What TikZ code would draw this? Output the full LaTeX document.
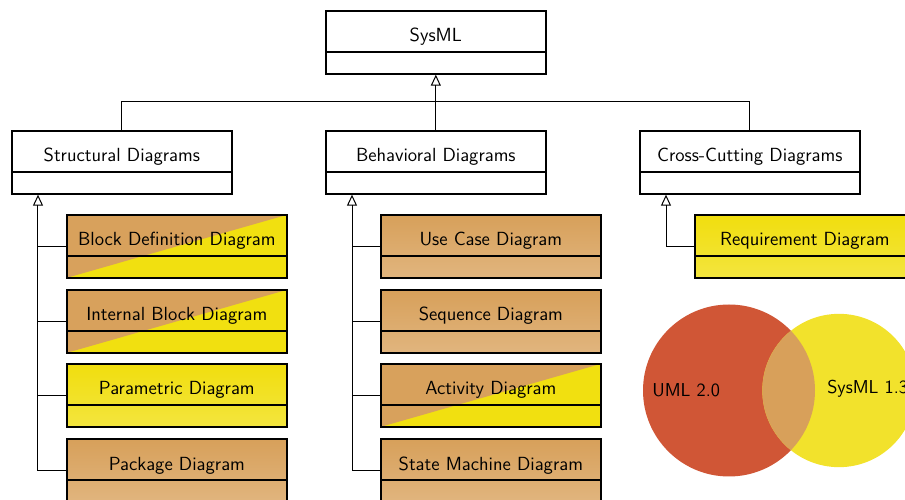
\documentclass[tikz,border=0pt]{standalone}
\usetikzlibrary{arrows.meta}
\definecolor{tanA}{HTML}{D7A05A}
\definecolor{tanB}{HTML}{E1B57E}
\definecolor{yelA}{HTML}{F1DE0E}
\definecolor{yelB}{HTML}{F3E53E}
\definecolor{tanF}{HTML}{D8A15C}
\definecolor{yelF}{HTML}{F1E010}
\definecolor{umlred}{HTML}{D05636}
\definecolor{sysyel}{HTML}{F2E22C}
\definecolor{overlapc}{HTML}{D8A05A}
\tikzset{
 umlbox/.style={rectangle, draw, line width=1pt, minimum width=132pt, minimum height=37.8pt, inner sep=0pt, anchor=north west},
 plainbox/.style={umlbox, fill=white},
 tanbox/.style={umlbox, top color=tanA, bottom color=tanB},
 yelbox/.style={umlbox, top color=yelA, bottom color=yelB},
 splitbox/.style={umlbox, fill=yelF, path picture={\fill[tanF] (path picture bounding box.north west) -- (path picture bounding box.north east) -- (path picture bounding box.south west) -- cycle;}},
 boxtext/.style={font=\sffamily\fontsize{11.4}{13.5}\selectfont, anchor=base, inner sep=0pt},
 divider/.style={line width=1pt},
 conn/.style={line width=0.6pt},
 gen/.style={conn, -{Triangle[open, length=6.6pt, width=6pt]}},
 venntext/.style={font=\sffamily\fontsize{11.2}{13.5}\selectfont, anchor=west, inner sep=0pt},
}
\newcommand{\umlclass}[5]{%
 \node[#4] (#1) at (#2,#3) {};
 \draw[divider] ([yshift=-25.2pt]#1.north west) -- ([yshift=-25.2pt]#1.north east);
 \node[boxtext] (#1-t) at ([yshift=-19.2pt]#1.north) {#5};
}
\begin{document}
\begin{tikzpicture}[x=0.6pt, y=-0.6pt]
\useasboundingbox (0,0) rectangle (905,500);
% Venn
\node[circle, fill=umlred, minimum size=103.2pt, inner sep=0pt] (umlc) at (729,390.5) {};
\node[circle, fill=sysyel, minimum size=92pt, inner sep=0pt] (sysc) at (839,390.5) {};
\begin{scope}
 \clip (umlc.center) circle[radius=51.6pt];
 \fill[overlapc] (sysc.center) circle[radius=46pt];
\end{scope}
\node[venntext] (umlt) at (652,390) {UML 2.0};
\node[venntext] (syst) at (827,389) {SysML 1.3};
% classes
\umlclass{sysml}{325}{10}{plainbox}{SysML}
\umlclass{str}{11}{130}{plainbox}{Structural Diagrams}
\umlclass{beh}{325}{130}{plainbox}{Behavioral Diagrams}
\umlclass{cross}{639}{130}{plainbox}{Cross-Cutting Diagrams}
\umlclass{bdd}{66}{214}{splitbox}{Block Definition Diagram}
\umlclass{ibd}{66}{289}{splitbox}{Internal Block Diagram}
\umlclass{par}{66}{363}{yelbox}{Parametric Diagram}
\umlclass{pkg}{66}{438}{tanbox}{Package Diagram}
\umlclass{uc}{380}{214}{tanbox}{Use Case Diagram}
\umlclass{seq}{380}{289}{tanbox}{Sequence Diagram}
\umlclass{act}{380}{363}{splitbox}{Activity Diagram}
\umlclass{stm}{380}{438}{tanbox}{State Machine Diagram}
\umlclass{req}{694}{214}{yelbox}{Requirement Diagram}
% top connectors
\draw[gen] (beh.north) -- (sysml.south);
\draw[conn] (str.north) -- ++(0,-28) -| (cross.north);
% stems
\coordinate (s1) at ([xshift=16.2pt]str.south west);
\coordinate (s2) at ([xshift=16.2pt]beh.south west);
\coordinate (s3) at ([xshift=16.2pt]cross.south west);
\draw[gen] (pkg.west) -| (s1);
\draw[conn] (bdd.west) -- (bdd.west -| s1);
\draw[conn] (ibd.west) -- (ibd.west -| s1);
\draw[conn] (par.west) -- (par.west -| s1);
\draw[gen] (stm.west) -| (s2);
\draw[conn] (uc.west) -- (uc.west -| s2);
\draw[conn] (seq.west) -- (seq.west -| s2);
\draw[conn] (act.west) -- (act.west -| s2);
\draw[gen] (req.west) -| (s3);
\end{tikzpicture}
\end{document}
